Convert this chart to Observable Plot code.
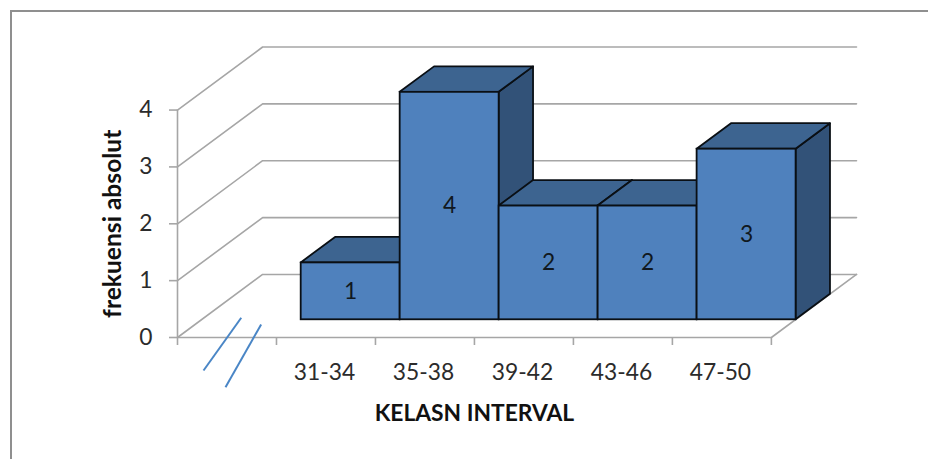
<!DOCTYPE html>
<html>
<head>
<meta charset="utf-8">
<script src="https://cdn.jsdelivr.net/npm/d3@7"></script>
<script src="https://cdn.jsdelivr.net/npm/@observablehq/plot@0.6"></script>
<style>
  html, body { margin: 0; padding: 0; background: #fff; }
  #chart { position: relative; width: 928px; height: 459px; overflow: hidden; }
  #chart svg { display: block; }
  #border { position: absolute; left: 9.5px; top: 9.5px; right: -5px; bottom: -5px;
            border-top: 2.5px solid #8f8f8f; border-left: 2.5px solid #8f8f8f; }
</style>
</head>
<body>
<div id="chart"><div id="border"></div></div>
<script>
// Frequency table by class interval
const categories = ["31-34", "35-38", "39-42", "43-46", "47-50"];
const counts = [1, 4, 2, 2, 3];
const valueTicks = [0, 1, 2, 3, 4];
const categorySlots = [0, 1, 2, 3, 4, 5, 6];
const firstSlot = 1; // slot 0 stays empty, it holds the axis break

// Oblique projection: one unit of depth, in x and y data units
const skewX = 0.86;
const skewY = 1.109;
const barDepthStart = 0.281;
const barDepthEnd = 0.685;
const barShift = 0.008;

// Axis-break strokes under the empty slot
const breakStrokes = [
  {x1: 0.263, y1: -0.581, x2: 0.644, y2: 0.347},
  {x1: 0.485, y1: -0.875, x2: 0.845, y2: 0.229}
];

const gridColor = "#a6a6a6";
const outline = "#0a0f14";
const textColor = "#2b2b2b";
const lastSlot = categorySlots[categorySlots.length - 1];

const project = (slot, value, depth) => ({x: slot + depth * skewX, y: value + depth * skewY});

// Back wall and side wall gridlines, one path per value
const gridRows = valueTicks.flatMap((v) =>
  [[0, 0], [0, 1], [lastSlot, 1]].map(([s, d]) => ({v, ...project(s, v, d)}))
);
const floorRows = [[0, 0], [lastSlot, 0], [lastSlot, 1]].map(([s, d]) => project(s, 0, d));

const bars = categories.map((name, i) => ({
  name, count: counts[i],
  left: firstSlot + i + barShift,
  right: firstSlot + i + 1 + barShift
}));

const sideRows = bars.flatMap((b) =>
  [barDepthStart, barDepthEnd].map((d) => ({
    name: b.name,
    x: b.right + d * skewX,
    y1: d * skewY,
    y2: b.count + d * skewY
  }))
);
const topRows = bars.flatMap((b) =>
  [barDepthStart, barDepthEnd].map((d) => ({
    name: b.name,
    y: b.count + d * skewY,
    x1: b.left + d * skewX,
    x2: b.right + d * skewX
  }))
);
const frontRows = bars.map((b) => ({
  name: b.name, count: b.count,
  x1: b.left + barDepthStart * skewX,
  x2: b.right + barDepthStart * skewX,
  y1: barDepthStart * skewY,
  y2: b.count + barDepthStart * skewY
}));

const chart = Plot.plot({
  width: 928,
  height: 459,
  marginLeft: 177,
  marginRight: 72,
  marginTop: 46.5,
  marginBottom: 122,
  x: {domain: [0, lastSlot + skewX]},
  y: {domain: [0, 4 + skewY]},
  style: {fontFamily: "Lato, sans-serif", fontSize: "22.8px", background: "transparent", color: textColor},
  marks: [
    // Walls and floor
    Plot.line(gridRows, {x: "x", y: "y", z: "v", stroke: gridColor, strokeWidth: 1.6, curve: "linear"}),
    Plot.line(floorRows, {x: "x", y: "y", stroke: gridColor, strokeWidth: 1.6}),
    Plot.ruleX([0], {y1: 0, y2: 4, stroke: gridColor, strokeWidth: 1.6}),

    // Axes
    Plot.axisY({ticks: valueTicks, tickSize: 8, tickPadding: 17, label: null,
                stroke: gridColor, strokeWidth: 1.6, fill: textColor, tickFormat: (d) => d}),
    Plot.axisX({ticks: categorySlots, tickSize: 8, label: null, stroke: gridColor,
                strokeWidth: 1.6, tickFormat: () => ""}),
    Plot.text(categories, {x: (d, i) => firstSlot + i + 0.485, y: 0, dy: 35, text: (d) => d,
                           fill: textColor, textAnchor: "middle", lineAnchor: "middle"}),

    // Axis titles
    Plot.text(["KELASN INTERVAL"], {x: 3, y: 0, dy: 76, text: (d) => d, fontWeight: "bold",
                                    fontSize: 22.8, fill: "#111", lineAnchor: "middle"}),
    Plot.text(["frekuensi absolut"], {x: 0, y: 2, dx: -64, rotate: -90, text: (d) => d, fontWeight: "bold",
                                      fontSize: 24.6, fill: "#111", lineAnchor: "middle"}),

    // Axis break
    Plot.link(breakStrokes, {x1: "x1", y1: "y1", x2: "x2", y2: "y2", stroke: "#4a86c6", strokeWidth: 2}),

    // Bars: side faces, then top faces, then front faces
    Plot.areaY(sideRows, {x: "x", y1: "y1", y2: "y2", z: "name", fill: "#325278", stroke: outline, strokeWidth: 1.8}),
    Plot.areaX(topRows, {y: "y", x1: "x1", x2: "x2", z: "name", fill: "#3d6490", stroke: outline, strokeWidth: 1.8}),
    Plot.rect(frontRows, {x1: "x1", x2: "x2", y1: "y1", y2: "y2", fill: "#4f81bd", stroke: outline, strokeWidth: 1.8}),

    // Value labels centred on the front faces
    Plot.text(frontRows, {x: (d) => (d.x1 + d.x2) / 2, y: (d) => (d.y1 + d.y2) / 2, text: (d) => String(d.count),
                          fill: "#101820", lineAnchor: "middle"})
  ]
});

document.getElementById("chart").prepend(chart);
</script>
</body>
</html>
